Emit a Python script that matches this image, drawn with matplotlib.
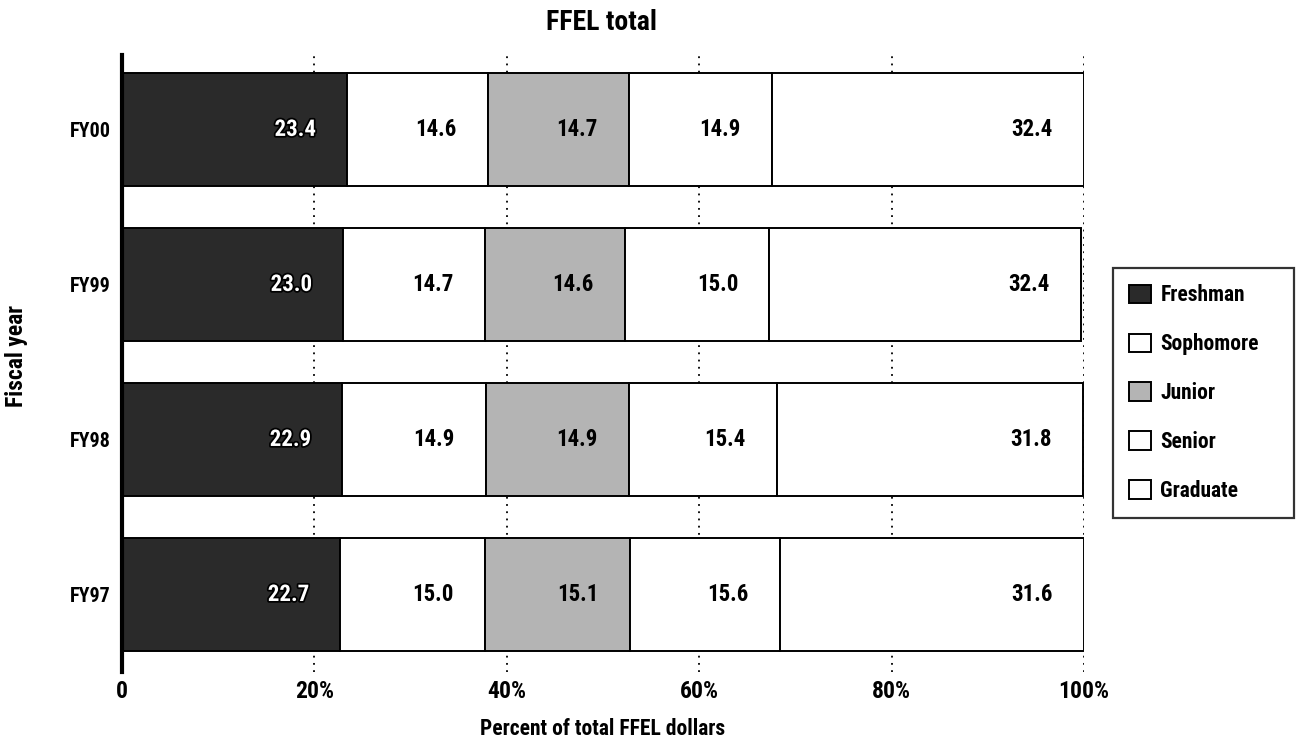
import matplotlib
matplotlib.use("Agg")
import matplotlib.pyplot as plt
import matplotlib.patheffects as pe
from matplotlib.patches import Patch
import numpy as np

plt.rcParams['font.family'] = ['Liberation Sans Narrow', 'DejaVu Sans Condensed',
                               'Roboto Condensed', 'DejaVu Sans']
plt.rcParams['font.weight'] = 'bold'

years = ["FY97", "FY98", "FY99", "FY00"]
categories = ["Freshman", "Sophomore", "Junior", "Senior", "Graduate"]
freshman = [22.7, 22.9, 23.0, 23.4]
sophomore = [15.0, 14.9, 14.7, 14.6]
junior = [15.1, 14.9, 14.6, 14.7]
senior = [15.6, 15.4, 15.0, 14.9]
graduate = [31.6, 31.8, 32.4, 32.4]
xtick_labels = ["0", "20%", "40%", "60%", "80%", "100%"]

series = [freshman, sophomore, junior, senior, graduate]
colors = ["#2a2a2a", "#ffffff", "#b4b4b4", "#ffffff", "#ffffff"]

fig = plt.figure(figsize=(12.98, 7.4), dpi=100)
ax = fig.add_axes([122/1298, 1-672/740, (1084-122)/1298, (672-55)/740])

y = np.arange(len(years))
left = np.zeros(len(years))
for ci, (name, vals) in enumerate(zip(categories, series)):
    vals = np.array(vals)
    ax.barh(y, vals, left=left, height=0.73, color=colors[ci],
            edgecolor="black", linewidth=1.4, zorder=3, label=name)
    for yi, (l, v) in enumerate(zip(left, vals)):
        xpos = l + v - 5.4
        if ci == 0:
            ax.text(xpos, yi, f"{v:.1f}", ha="center", va="center", color="white",
                    fontsize=16.5, fontweight="bold", zorder=5,
                    path_effects=[pe.withStroke(linewidth=2.5, foreground="black")])
        else:
            ax.text(xpos, yi, f"{v:.1f}", ha="center", va="center", color="black",
                    fontsize=16.5, fontweight="bold", zorder=5)
    left = left + vals

ax.set_xlim(0, 100)
ax.set_ylim(-0.5, 3.48)
ax.set_xticks([0, 20, 40, 60, 80, 100])
ax.set_xticklabels(xtick_labels, fontsize=17, fontweight="bold")
ax.set_yticks(y)
ax.set_yticklabels(years, fontsize=14.5, fontweight="bold")
ax.tick_params(axis="x", length=0, pad=6)
ax.tick_params(axis="y", length=0, pad=8)
for x in [20, 40, 60, 80, 100]:
    ax.axvline(x, color="black", linestyle=(0, (1, 3)), linewidth=1.3, zorder=1)

for s in ["top", "right", "bottom"]:
    ax.spines[s].set_visible(False)
ax.spines["left"].set_linewidth(3)
ax.spines["left"].set_zorder(6)

fig.text(603/1298, 1-729/740, "Percent of total FFEL dollars", ha="center", va="center",
         fontsize=15.5, fontweight="bold")
fig.text(17/1298, 1-356/740, "Fiscal year", rotation=90, ha="center", va="center",
         fontsize=17, fontweight="bold")
fig.text(601/1298, 1-22/740, "FFEL total", ha="center", va="center",
         fontsize=20, fontweight="bold")

handles = [Patch(facecolor=c, edgecolor="black", linewidth=1.4) for c in colors]
leg = fig.legend(handles, categories, loc="upper left",
                 bbox_to_anchor=(1113/1298, 1-268/740, 181/1298, 0), mode="expand",
                 frameon=True, fancybox=False,
                 edgecolor="black", fontsize=15.5, handlelength=1.0, handleheight=0.93,
                 labelspacing=1.25, borderpad=0.75, handletextpad=0.45,
                 borderaxespad=0)
leg.get_frame().set_linewidth(1.6)
for t in leg.get_texts():
    t.set_fontweight("bold")

fig.savefig("out.png", dpi=100)
